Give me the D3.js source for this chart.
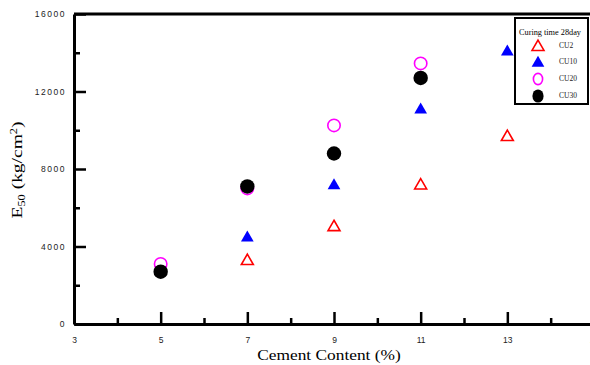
<!DOCTYPE html>
<html>
<head>
<meta charset="utf-8">
<script src="https://cdn.jsdelivr.net/npm/d3@7/dist/d3.min.js"></script>
<style>
  html, body { margin: 0; padding: 0; background: #fff; }
  svg { display: block; }
</style>
</head>
<body>
<svg id="chart" width="590" height="365"></svg>
<script>
// Cement content (%) at which each specimen group was tested
const cement = [5, 7, 9, 11, 13];
// E50 (kg/cm2) per curing group, null where no specimen was tested
const cu2  = [null, 3300, 5050, 7200, 9700];
const cu10 = [null, 4500, 7200, 11100, 14100];
const cu20 = [3100, 7000, 10250, 13450, null];
const cu30 = [2700, 7100, 8800, 12700, null];

const xMajor = [3, 5, 7, 9, 11, 13, 15];
const xMinor = [4, 6, 8, 10, 12, 14];
const yMajor = [0, 4000, 8000, 12000, 16000];
const yMinor = [2000, 6000, 10000, 14000];

const legendTitle = "Curing time 28day";
const seriesNames = ["CU2", "CU10", "CU20", "CU30"];

const svg = d3.select("#chart");

const x = d3.scaleLinear().domain([3, 15]).range([74, 594]);
const y = d3.scaleLinear().domain([0, 16000]).range([324, 14]);

// Frame: top edge (and right edge, which falls outside the view)
svg.append("path")
  .attr("d", `M${x(3)},${y(16000)}H${x(15)}V${y(0)}`)
  .attr("fill", "none").attr("stroke", "#000").attr("stroke-width", 3);

// Bottom axis: major ticks labelled, minor ticks short, all pointing inward
const gx = svg.append("g").attr("transform", `translate(0,${y(0)})`);
gx.call(d3.axisBottom(x).tickValues(xMajor).tickSizeInner(-12).tickSizeOuter(0).tickPadding(13));
const gxMinor = svg.append("g").attr("transform", `translate(0,${y(0)})`);
gxMinor.call(d3.axisBottom(x).tickValues(xMinor).tickSizeInner(-6).tickSizeOuter(0).tickFormat(""));
gxMinor.select(".domain").remove();

const gy = svg.append("g").attr("transform", `translate(${x(3)},0)`);
gy.call(d3.axisLeft(y).tickValues(yMajor).tickSizeInner(-12).tickSizeOuter(0).tickPadding(8).tickFormat(d3.format("d")));
const gyMinor = svg.append("g").attr("transform", `translate(${x(3)},0)`);
gyMinor.call(d3.axisLeft(y).tickValues(yMinor).tickSizeInner(-6).tickSizeOuter(0).tickFormat(""));
gyMinor.select(".domain").remove();

svg.selectAll(".domain").attr("stroke", "#000").attr("stroke-width", 3);
svg.selectAll(".tick line").attr("stroke", "#000").attr("stroke-width", 2.5);
gx.selectAll(".tick text")
  .attr("font-family", "Liberation Sans, Arial, sans-serif")
  .attr("font-size", 8.5).attr("fill", "#222");
gy.selectAll(".tick text")
  .attr("font-family", "Liberation Sans, Arial, sans-serif")
  .attr("font-size", 8.5).attr("letter-spacing", 1.5).attr("fill", "#222");

// Axis titles
svg.append("text")
  .attr("transform", `translate(329,360) scale(1.12,1)`)
  .attr("text-anchor", "middle")
  .attr("font-family", "Liberation Serif, Times New Roman, serif")
  .attr("font-size", 15.5)
  .text("Cement Content (%)");

const yTitle = svg.append("text")
  .attr("transform", `translate(22,170) rotate(-90) scale(1.3,1)`)
  .attr("text-anchor", "middle")
  .attr("font-family", "Liberation Serif, Times New Roman, serif")
  .attr("font-size", 15);
yTitle.append("tspan").text("E");
yTitle.append("tspan").attr("font-size", 9.5).attr("dy", 3).text("50");
yTitle.append("tspan").attr("dy", -3).text(" (kg/cm");
yTitle.append("tspan").attr("font-size", 9.5).attr("dy", -5).text("2");
yTitle.append("tspan").attr("dy", 5).text(")");

// Marker styles per series
const styles = [
  { data: cu2,  shape: "tri",    fill: "none",    stroke: "#ff0000" },
  { data: cu10, shape: "tri",    fill: "#0000ff", stroke: "none" },
  { data: cu20, shape: "circle", fill: "none",    stroke: "#ff00ff" },
  { data: cu30, shape: "circle", fill: "#000000", stroke: "none" }
];

const triOpen = d3.symbol().type(d3.symbolTriangle).size(62);
const triFill = d3.symbol().type(d3.symbolTriangle).size(70);

styles.forEach((s, i) => {
  const pts = cement.map((c, k) => ({ c, v: s.data[k] })).filter(p => p.v != null);
  const g = svg.append("g");
  if (s.shape === "tri") {
    g.selectAll("path").data(pts).join("path")
      .attr("d", s.fill === "none" ? triOpen : triFill)
      .attr("transform", p => `translate(${x(p.c)},${y(p.v) + 1})`)
      .attr("fill", s.fill).attr("stroke", s.stroke).attr("stroke-width", 1.6);
  } else {
    g.selectAll("circle").data(pts).join("circle")
      .attr("cx", p => x(p.c)).attr("cy", p => y(p.v))
      .attr("r", s.fill === "none" ? 6.2 : 7.2)
      .attr("fill", s.fill).attr("stroke", s.stroke).attr("stroke-width", 1.6);
  }
});

// Legend
const lg = svg.append("g");
lg.append("rect").attr("x", 515).attr("y", 18).attr("width", 73).attr("height", 86)
  .attr("fill", "#fff").attr("stroke", "#000").attr("stroke-width", 2);
lg.append("text").attr("x", 519).attr("y", 35)
  .attr("font-family", "Liberation Serif, Times New Roman, serif")
  .attr("font-size", 9).attr("textLength", 62).attr("lengthAdjust", "spacingAndGlyphs")
  .text(legendTitle);

const rowY = [46, 62, 79, 96];
styles.forEach((s, i) => {
  const cy = rowY[i];
  if (s.shape === "tri") {
    lg.append("path").attr("d", s.fill === "none" ? triOpen : triFill)
      .attr("transform", `translate(538,${cy + 1})`)
      .attr("fill", s.fill).attr("stroke", s.stroke).attr("stroke-width", 1.6);
  } else {
    lg.append("ellipse").attr("cx", 538).attr("cy", cy)
      .attr("rx", s.fill === "none" ? 4.6 : 5.6).attr("ry", s.fill === "none" ? 5.6 : 6.6)
      .attr("fill", s.fill).attr("stroke", s.stroke).attr("stroke-width", 1.6);
  }
  lg.append("text").attr("x", 559).attr("y", cy + 2)
    .attr("font-family", "Liberation Serif, Times New Roman, serif")
    .attr("font-size", 7.5).attr("fill", "#222")
    .text(seriesNames[i]);
});
</script>
</body>
</html>
